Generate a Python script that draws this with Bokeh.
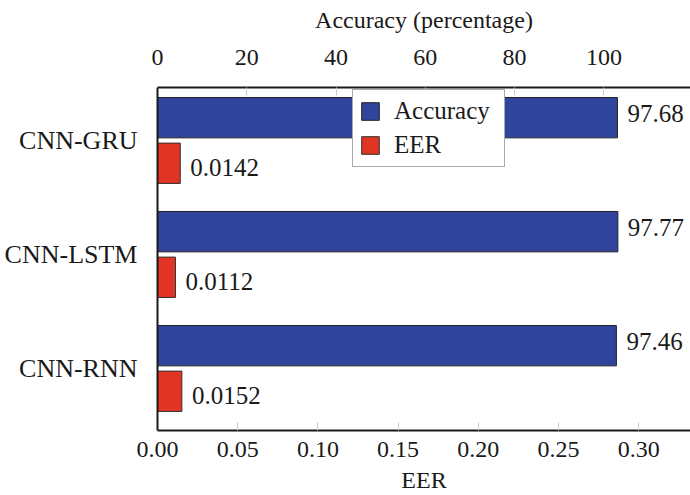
from bokeh.plotting import figure
from bokeh.models import Range1d, LinearAxis, FixedTicker, ColumnDataSource, Legend, LegendItem
from bokeh.core.properties import value
from bokeh.embed import file_html
from bokeh.resources import INLINE

models = ["CNN-GRU", "CNN-LSTM", "CNN-RNN"]
accuracy = [97.68, 97.77, 97.46]
eer = [0.0142, 0.0112, 0.0152]
acc_labels = ["97.68", "97.77", "97.46"]
eer_labels = ["0.0142", "0.0112", "0.0152"]
eer_ticks = [0.0, 0.05, 0.10, 0.15, 0.20, 0.25, 0.30]
acc_ticks = [0, 20, 40, 60, 80, 100]

FONT = "Liberation Serif"
BLUE = "#31449c"
RED = "#e03424"
DARK = "#1a1a1a"

n = len(models)
pos = [n - 1 - i for i in range(n)]  # top-to-bottom
acc_y = [p + 0.2 for p in pos]
eer_y = [p - 0.2 for p in pos]

p = figure(width=690, height=495, output_backend="svg", toolbar_location=None,
           x_range=Range1d(0, 0.3323), y_range=Range1d(-0.544, 2.4646),
           min_border_left=157, min_border_right=0, min_border_top=87, min_border_bottom=64,
           x_axis_location=None, y_axis_location=None)
p.outline_line_color = None
p.xgrid.visible = False
p.ygrid.visible = False
p.background_fill_color = "white"
p.border_fill_color = "white"

p.extra_x_ranges = {"top": Range1d(0, 119.4), "acc": Range1d(0, 113.2)}

src_acc = ColumnDataSource(dict(y=acc_y, v=accuracy, t=acc_labels))
src_eer = ColumnDataSource(dict(y=eer_y, v=eer, t=eer_labels))

r_acc = p.hbar(y="y", right="v", left=0, height=0.354, source=src_acc, x_range_name="acc",
               fill_color=BLUE, line_color="#222222", line_width=1)
r_eer = p.hbar(y="y", right="v", left=0, height=0.354, source=src_eer,
               fill_color=RED, line_color="#333333", line_width=1)

p.text(x="v", y="y", text="t", source=src_acc, x_range_name="acc", x_offset=10, y_offset=-4,
       text_font=value(FONT), text_font_size="25px", text_baseline="middle", text_color=DARK)
p.text(x="v", y="y", text="t", source=src_eer, x_offset=10, y_offset=4,
       text_font=value(FONT), text_font_size="25px", text_baseline="middle", text_color=DARK)

def style_x(ax):
    ax.axis_line_color = DARK
    ax.axis_line_width = 2
    ax.major_tick_in = 8
    ax.major_tick_out = 0
    ax.major_tick_line_color = "#cccccc"
    ax.major_tick_line_width = 1
    ax.minor_tick_line_color = None
    ax.major_label_text_font = FONT
    ax.major_label_text_font_size = "24px"
    ax.major_label_text_color = DARK
    ax.axis_label_text_font = FONT
    ax.axis_label_text_font_size = "24px"
    ax.axis_label_text_font_style = "normal"
    ax.axis_label_text_color = DARK

bottom = LinearAxis(axis_label="EER", ticker=FixedTicker(ticks=eer_ticks))
style_x(bottom)
bottom.major_label_overrides = {t: f"{t:.2f}" for t in eer_ticks}
bottom.major_label_standoff = 11
bottom.axis_label_standoff = 7
p.add_layout(bottom, "below")

top = LinearAxis(axis_label="Accuracy (percentage)", x_range_name="top",
                 ticker=FixedTicker(ticks=acc_ticks))
style_x(top)
top.major_label_standoff = 23
top.axis_label_standoff = 14
p.add_layout(top, "above")

left = LinearAxis(ticker=FixedTicker(ticks=pos))
left.major_label_overrides = {pos[i]: models[i] for i in range(n)}
left.axis_line_color = DARK
left.axis_line_width = 2
left.major_tick_line_color = None
left.minor_tick_line_color = None
left.major_label_text_font = FONT
left.major_label_text_font_size = "26px"
left.major_label_text_color = DARK
left.major_label_standoff = 14
p.add_layout(left, "left")

legend = Legend(items=[LegendItem(label="Accuracy", renderers=[r_acc]),
                       LegendItem(label="EER", renderers=[r_eer])],
                location=(195, 263))
legend.label_text_font = FONT
legend.label_text_font_size = "25px"
legend.label_text_color = DARK
legend.glyph_width = 22
legend.glyph_height = 22
legend.label_height = 30
legend.label_width = 104
legend.label_standoff = 13
legend.spacing = 4
legend.padding = 6
legend.margin = 0
legend.border_line_color = "#555555"
legend.border_line_width = 1
legend.background_fill_alpha = 1
p.add_layout(legend, "center")

open("out.html", "w").write(file_html(p, INLINE))
